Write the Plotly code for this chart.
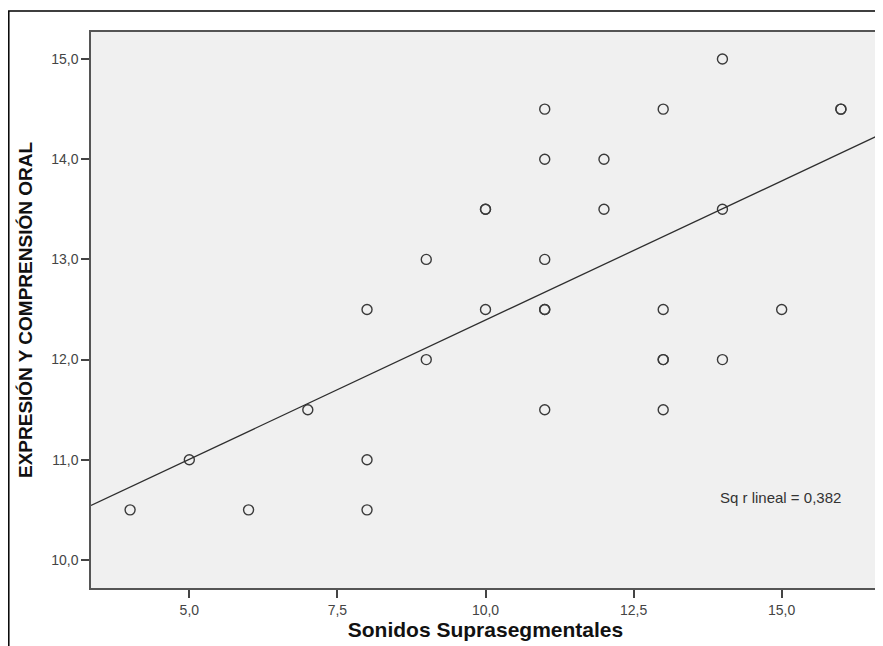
import numpy as np
import plotly.graph_objects as go

# Data (overlapping points listed twice)
sonidos = [4, 5, 6, 7, 8, 8, 8, 9, 9, 10, 10, 10, 11, 11, 11, 11, 11, 11,
           12, 12, 13, 13, 13, 13, 13, 14, 14, 14, 15, 16, 16]
expresion = [10.5, 11, 10.5, 11.5, 12.5, 11, 10.5, 13, 12, 13.5, 13.5, 12.5,
             14.5, 14, 13, 12.5, 12.5, 11.5, 14, 13.5, 14.5, 12.5, 12, 12, 11.5,
             15, 13.5, 12, 12.5, 14.5, 14.5]

x_ticks = [5, 7.5, 10, 12.5, 15]
x_ticktext = ["5,0", "7,5", "10,0", "12,5", "15,0"]
y_ticks = [10, 11, 12, 13, 14, 15]
y_ticktext = ["10,0", "11,0", "12,0", "13,0", "14,0", "15,0"]

x_range = [3.34, 16.66]
y_range = [9.72, 15.27]

r2_label = "Sq r lineal = 0,382"

# Linear fit computed from the data
slope, intercept = np.polyfit(sonidos, expresion, 1)
line_x = np.array(x_range)
line_y = intercept + slope * line_x

fig = go.Figure()
fig.add_trace(go.Scatter(
    x=sonidos, y=expresion, mode="markers",
    marker=dict(symbol="circle-open", size=10, color="#3a3a3a",
                line=dict(width=1.4, color="#3a3a3a")),
    showlegend=False, hoverinfo="skip"))
fig.add_trace(go.Scatter(
    x=line_x, y=line_y, mode="lines",
    line=dict(color="#2e2e2e", width=1.3),
    showlegend=False, hoverinfo="skip"))

# page body has an 8px default margin; figure sized to fit the window
W, H = 875, 638
ml, mr, mt, mb = 83, 3, 24, 58
pw, ph = W - ml - mr, H - mt - mb

fig.add_annotation(x=14.98, y=10.62, xref="x", yref="y", text=r2_label,
                   showarrow=False,
                   font=dict(family="Liberation Sans, Arial", size=15, color="#333333"))

# outer frame
fig.add_shape(type="rect", xref="paper", yref="paper",
              x0=(0.8 - ml) / pw, x1=(900 - ml) / pw,
              y0=((H - mb) - 700) / ph, y1=((H - mb) - 3) / ph,
              line=dict(color="#000000", width=1.5), fillcolor="rgba(0,0,0,0)",
              layer="below")

axis_common = dict(showgrid=False, zeroline=False, showline=True, mirror=True,
                   linecolor="#555555", linewidth=1.5, ticks="outside",
                   ticklen=8, tickwidth=2, tickcolor="#444444",
                   tickfont=dict(family="Liberation Sans, Arial", size=14, color="#444444"))

fig.update_xaxes(range=x_range, tickvals=x_ticks, ticktext=x_ticktext,
                 title=dict(text="<b>Sonidos Suprasegmentales</b>", standoff=4,
                            font=dict(family="Liberation Sans, Arial", size=21, color="#111111")),
                 **axis_common)
fig.update_yaxes(range=y_range, tickvals=y_ticks, ticktext=y_ticktext,
                 title=dict(text="<b>EXPRESIÓN Y COMPRENSIÓN ORAL</b>", standoff=14,
                            font=dict(family="Liberation Sans, Arial", size=19, color="#111111")),
                 **axis_common)

fig.update_layout(width=W, height=H,
                  margin=dict(l=ml, r=mr, t=mt, b=mb, autoexpand=False),
                  paper_bgcolor="white", plot_bgcolor="#f0f0f0",
                  font=dict(family="Liberation Sans, Arial"))

fig.write_html("out.html")
